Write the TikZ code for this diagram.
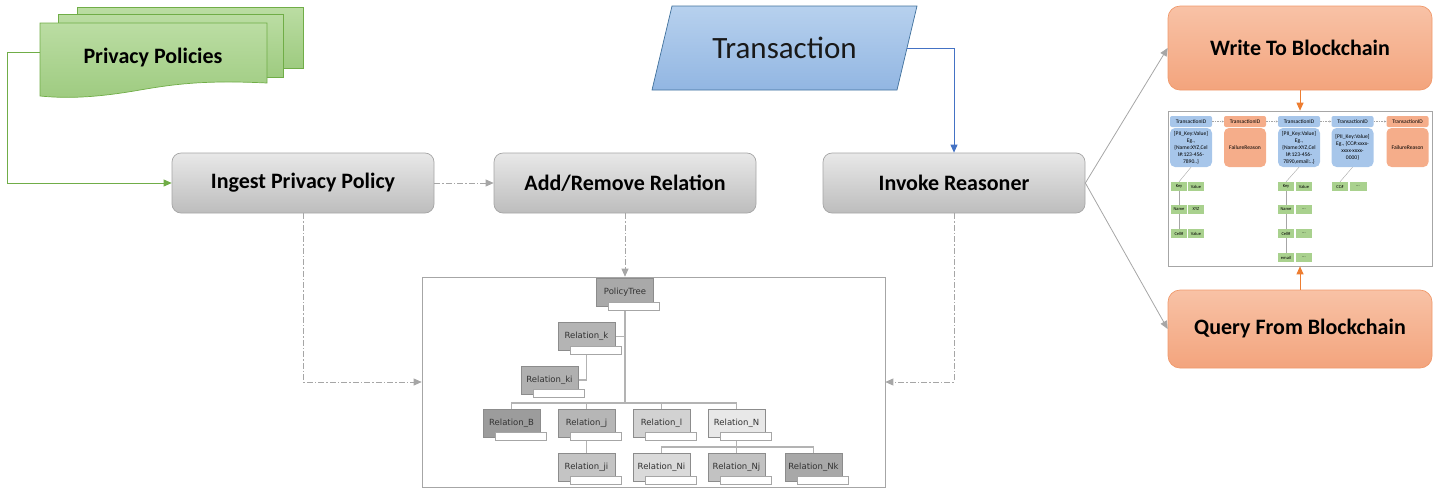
\documentclass[tikz,border=0pt]{standalone}
\usepackage{fontspec}
\setmainfont{Carlito}
\newfontfamily\treefont{DejaVu Sans}
\usetikzlibrary{arrows.meta,backgrounds}

\definecolor{stagetop}{HTML}{E8E8E8}
\definecolor{stagebot}{HTML}{BDBDBD}
\definecolor{stageline}{HTML}{A5A5A5}
\definecolor{linkgray}{HTML}{A6A6A6}
\definecolor{greenline}{HTML}{70AD47}
\definecolor{greentop}{HTML}{BBDDA3}
\definecolor{greenbot}{HTML}{9ECB80}
\definecolor{bluetop}{HTML}{B7D1EE}
\definecolor{bluebot}{HTML}{92B6E2}
\definecolor{blueline}{HTML}{41719C}
\definecolor{bluearrow}{HTML}{4472C4}
\definecolor{orangetop}{HTML}{F8C2A6}
\definecolor{orangebot}{HTML}{F3A47D}
\definecolor{orangeline}{HTML}{F0996B}
\definecolor{orangearrow}{HTML}{ED7D31}
\definecolor{cellblue}{HTML}{A7C6EA}
\definecolor{cellorange}{HTML}{F5AD8A}
\definecolor{cellgreen}{HTML}{A9D18E}
\definecolor{treeline}{HTML}{B3B3B3}
\definecolor{treetext}{HTML}{333333}
\definecolor{treeedge}{HTML}{8C8C8C}

\tikzset{
  stage/.style={rectangle, rounded corners=9pt, minimum width=262pt, minimum height=60pt,
    top color=stagetop, bottom color=stagebot, draw=stageline, line width=0.7pt,
    font=\fontsize{22}{26}\selectfont\bfseries},
  chainop/.style={rectangle, rounded corners=12pt, minimum width=264pt,
    top color=orangetop, bottom color=orangebot, draw=orangeline, line width=0.7pt,
    font=\fontsize{22}{26}\selectfont\bfseries},
  docpage/.style={top color=greentop, bottom color=greenbot, draw=greenline, line width=0.7pt},
  tip/.style={-{Triangle[length=8pt,width=7pt]}},
  graylink/.style={tip, linkgray, line width=0.8pt},
  dashdot/.style={dash pattern=on 6pt off 2pt on 1.5pt off 2pt},
  relmain/.style={rectangle, minimum width=57pt, minimum height=28pt, inner sep=0pt,
    draw=treeedge, line width=0.6pt, font=\treefont\fontsize{8.5}{10}\selectfont, text=treetext},
  relsub/.style={rectangle, minimum width=51pt, minimum height=8pt, inner sep=0pt,
    fill=white, draw=linkgray, line width=0.6pt},
  treelink/.style={treeline, line width=1.3pt},
  hdr/.style={rectangle, rounded corners=2pt, minimum width=42pt, minimum height=11pt,
    inner sep=0pt, font=\fontsize{5.5}{6}\selectfont},
  chainbody/.style={rectangle, rounded corners=5pt, minimum width=42pt, minimum height=39pt,
    inner sep=0pt, align=center, font=\fontsize{5.6}{7}\selectfont},
  cell/.style={rectangle, fill=cellgreen, minimum height=9pt, inner sep=0pt,
    font=\fontsize{4.5}{5}\selectfont},
  celllink/.style={linkgray, line width=0.4pt},
  hdrlink/.style={linkgray, line width=0.4pt, dash pattern=on 1.5pt off 1pt,
    -{Triangle[length=2pt,width=2pt]}}
}

% one relation of the policy tree: grey box with its white value bar
\newcommand{\relnode}[5]{%
  \definecolor{fill#1}{HTML}{#4}%
  \node[relmain, fill=fill#1] (#1) at (#2,#3) {#5};
  \node[relsub, anchor=north west] (#1-s) at ([xshift=12pt,yshift=5pt]#1.south west) {};
}

\begin{document}
\begin{tikzpicture}[x=1pt,y=-1pt]
\useasboundingbox (0,0) rectangle (1440,491);

% ---------- privacy policy documents ----------
\draw[docpage] (77,7) rectangle (303,68);
\draw[docpage] (58,14) rectangle (283,77);
\draw[docpage] (40,23) -- (267,23) -- (267,83)
  .. controls (205,80) and (175,84) .. (140,90)
  .. controls (100,97) and (70,99) .. (40,96) -- cycle;
\node[font=\fontsize{22}{26}\selectfont\bfseries] (pp) at (153,58) {Privacy Policies};
\coordinate (ppL) at (40,52);

% ---------- transaction input ----------
\draw[top color=bluetop, bottom color=bluebot, draw=blueline, line width=0.7pt]
  (652,90) -- (672,6) -- (917,6) -- (897,90) -- cycle;
\node[font=\fontsize{31}{36}\selectfont, text=black!90] (trans) at (784.5,48) {Transaction};
\coordinate (transR) at (907,48);

% ---------- processing stages ----------
\node[stage] (ingest) at (303,183) {Ingest Privacy Policy};
\node[stage] (addrm)  at (625,183) {Add/Remove Relation};
\node[stage] (invoke) at (954,183) {Invoke Reasoner};

% ---------- blockchain operations ----------
\node[chainop, minimum height=84pt] (write) at (1300,48) {Write To Blockchain};
\node[chainop, minimum height=78pt] (query) at (1300,329) {Query From Blockchain};

% ---------- policy tree ----------
\node[draw=linkgray, line width=0.6pt, minimum width=463pt, minimum height=210pt,
  inner sep=0pt] (tree) at (653.5,382) {};

\relnode{policy}{625}{292.5}{A9A9A9}{PolicyTree}
\relnode{relk}{586.5}{336.5}{B4B4B4}{Relation\_k}
\relnode{relki}{549.5}{380}{B0B0B0}{Relation\_ki}
\relnode{relB}{511.5}{423}{9C9C9C}{Relation\_B}
\relnode{relj}{586.5}{423}{B6B6B6}{Relation\_j}
\relnode{rell}{661.5}{423}{D2D2D2}{Relation\_l}
\relnode{relN}{736.5}{423}{E8E8E8}{Relation\_N}
\relnode{relji}{586.5}{467}{C4C4C4}{Relation\_ji}
\relnode{relNi}{661.5}{467}{DADADA}{Relation\_Ni}
\relnode{relNj}{736.5}{467}{C2C2C2}{Relation\_Nj}
\relnode{relNk}{813.5}{467}{A8A8A8}{Relation\_Nk}

\coordinate (bus) at (625,403);
\coordinate (busN) at (736.5,447);
\begin{scope}[on background layer]
  \draw[treelink] (policy.south) -- (bus);
  \draw[treelink] (relk.east) -- (relk.east -| policy.south);
  \draw[treelink] (relk.south) |- (relki.east);
  \draw[treelink] (bus) -| (relB.north);
  \draw[treelink] (bus) -| (relj.north);
  \draw[treelink] (bus) -| (rell.north);
  \draw[treelink] (bus) -| (relN.north);
  \draw[treelink] (relj.south) -- (relji.north);
  \draw[treelink] (relN.south) -- (busN);
  \draw[treelink] (busN) -| (relNi.north);
  \draw[treelink] (busN) -- (relNj.north);
  \draw[treelink] (busN) -| (relNk.north);
\end{scope}

% ---------- ledger contents ----------
\node[draw=linkgray, line width=0.6pt, minimum width=264pt, minimum height=155pt,
  inner sep=0pt] (chain) at (1300,188.5) {};

\node[hdr, fill=cellblue]   (h1) at (1191,121.5)   {TransactionID};
\node[hdr, fill=cellorange] (h2) at (1245,121.5)   {TransactionID};
\node[hdr, fill=cellblue]   (h3) at (1299,121.5)   {TransactionID};
\node[hdr, fill=cellblue]   (h4) at (1352.5,121.5) {TransactionID};
\node[hdr, fill=cellorange] (h5) at (1407.5,121.5) {TransactionID};

\node[chainbody, fill=cellblue] (b1) at (1191,147.5)
  {[PII\_Key:Value]\\Eg.,\\\{Name:XYZ,Cel\\l\#:123-456-\\7890..\}};
\node[chainbody, fill=cellorange] (b2) at (1245,147.5) {FailureReason};
\node[chainbody, fill=cellblue] (b3) at (1299,147.5)
  {[PII\_Key:Value]\\Eg.,\\\{Name:XYZ,Cel\\l\#:123-456-\\7890,email:..\}};
\node[chainbody, fill=cellblue] (b4) at (1352.5,147.5)
  {[PII\_Key:Value]\\Eg., \{CC\#:xxxx-\\xxxx-xxxx-\\0000\}};
\node[chainbody, fill=cellorange] (b5) at (1407.5,147.5) {FailureReason};

\draw[hdrlink] (h1) -- (h2);
\draw[hdrlink] (h2) -- (h3);
\draw[hdrlink] (h3) -- (h4);
\draw[hdrlink] (h4) -- (h5);

% key/value cells, first record
\node[cell, minimum width=16pt] (k1a) at (1179,186.5) {Key};
\node[cell, minimum width=16pt] (k1b) at (1196,186.5) {Value};
\node[cell, minimum width=16pt] (n1a) at (1179,209.5) {Name};
\node[cell, minimum width=16pt] (n1b) at (1196,209.5) {XYZ};
\node[cell, minimum width=16pt] (c1a) at (1179,233.5) {Cell\#};
\node[cell, minimum width=16pt] (c1b) at (1196,233.5) {Value};
% key/value cells, third record
\node[cell, minimum width=16pt] (k3a) at (1286,186.5) {Key};
\node[cell, minimum width=16pt] (k3b) at (1304,186.5) {Value};
\node[cell, minimum width=16pt] (n3a) at (1286,209.5) {Name};
\node[cell, minimum width=16pt] (n3b) at (1304,209.5) {...};
\node[cell, minimum width=16pt] (c3a) at (1286,233.5) {Cell\#};
\node[cell, minimum width=16pt] (c3b) at (1304,233.5) {...};
\node[cell, minimum width=16pt] (e3a) at (1286,257.5) {email};
\node[cell, minimum width=16pt] (e3b) at (1304,257.5) {...};
% key/value cells, fourth record
\node[cell, minimum width=16pt] (k4a) at (1340,186.5) {CC\#};
\node[cell, minimum width=17pt] (k4b) at (1358,186.5) {...};

\draw[celllink] (b1.south) -- (k1a.north);
\draw[celllink] (k1a.south) -- (n1a.north);
\draw[celllink] (n1a.south) -- (c1a.north);
\draw[celllink] (b3.south) -- (k3a.north);
\draw[celllink] (k3a.south) -- (n3a.north);
\draw[celllink] (n3a.south) -- (c3a.north);
\draw[celllink] (c3a.south) -- (e3a.north);
\draw[celllink] (b4.south) -- (k4a.north);

% ---------- connectors ----------
\draw[tip, greenline, line width=0.8pt] (ppL) -- ++(-33,0) |- (ingest.west);
\draw[tip, bluearrow, line width=0.8pt] (transR) -| (invoke.north);
\draw[graylink, dashdot] (ingest.east) -- (addrm.west);
\draw[graylink, dashdot] (ingest.south) |- (tree.west);
\draw[graylink, dashdot] (addrm.south) -- (addrm.south |- tree.north);
\draw[graylink, dashdot] (invoke.south) |- (tree.east);
\draw[graylink] (invoke.east) -- (write.west);
\draw[graylink] (invoke.east) -- (query.west);
\draw[tip, orangearrow, line width=0.9pt] (write.south) -- (chain.north);
\draw[tip, orangearrow, line width=0.9pt] (query.north) -- (chain.south);

\end{tikzpicture}
\end{document}
